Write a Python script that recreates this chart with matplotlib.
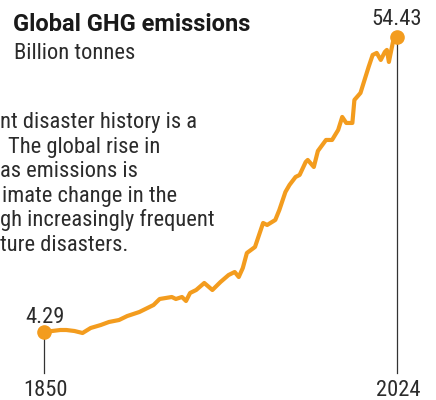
import matplotlib
matplotlib.use("Agg")
import matplotlib.pyplot as plt
from matplotlib import font_manager

# ---- data ----
years = [1850, 1858, 1861, 1865, 1869, 1873, 1878, 1882, 1887, 1891, 1897,
         1904, 1907, 1913, 1915, 1918, 1920, 1922, 1925, 1929, 1933, 1937,
         1941, 1944, 1946, 1948, 1950, 1954, 1958, 1960, 1964, 1966, 1969,
         1971, 1974, 1976, 1979, 1980, 1983, 1985, 1989, 1992, 1995, 1997,
         1999, 2002, 2003, 2006, 2008, 2010, 2012, 2014, 2016, 2018, 2019,
         2020, 2022, 2024]
values = [4.29, 4.63, 4.63, 4.46, 4.12, 4.97, 5.48, 5.99, 6.33, 7.00, 7.69,
          8.88, 9.90, 10.24, 9.90, 10.24, 9.56, 10.92, 11.43, 12.62, 11.43, 12.79,
          13.98, 14.49, 13.64, 15.17, 17.72, 18.74, 22.82, 22.48, 23.33, 25.03, 28.09,
          29.28, 30.64, 30.98, 33.19, 33.53, 32.34, 35.06, 36.93, 36.93, 38.63, 40.84,
          39.82, 39.82, 43.73, 44.92, 47.13, 49.33, 51.38, 51.72, 50.53, 51.89, 52.23,
          50.19, 53.58, 54.43]
title = "Global GHG emissions"
subtitle = "Billion tonnes"
body_lines = ["nt disaster history is a",
              "The global rise in",
              "as emissions is",
              "imate change in the",
              "gh increasingly frequent",
              "ture disasters."]

# ---- fonts ----
avail = {f.name for f in font_manager.fontManager.ttflist}
family = "Roboto"
for cand in ["Roboto Condensed", "Liberation Sans Narrow", "Roboto"]:
    if cand in avail:
        family = cand
        break
plt.rcParams["font.family"] = [family, "DejaVu Sans"]
title_family = ["Roboto", "DejaVu Sans"]

W, H = 436, 400
fig = plt.figure(figsize=(W / 100, H / 100), dpi=100)
ax = fig.add_axes([0, 0, 1, 1])
ax.set_axis_off()

# pixel anchors of the first/last points (from top-left)
x_first_px, y_first_px = 44, 332
x_last_px, y_last_px = 397, 37
ppy = (x_last_px - x_first_px) / (years[-1] - years[0])
ppv = (y_first_px - y_last_px) / (values[-1] - values[0])
ax.set_xlim(years[0] - x_first_px / ppy, years[0] + (W - x_first_px) / ppy)
ax.set_ylim(values[0] - (H - y_first_px) / ppv, values[0] + y_first_px / ppv)

orange = "#F39C1E"
ax.plot(years, values, color=orange, lw=3.0, solid_joinstyle="round",
        solid_capstyle="round", zorder=3)
ax.plot([years[0], years[-1]], [values[0], values[-1]], "o", color=orange,
        ms=9.5, zorder=4)

# vertical guide lines down to the year labels
y_bottom = values[0] - (372.5 - y_first_px) / ppv
for yr, v in [(years[0], values[0]), (years[-1], values[-1])]:
    ax.plot([yr, yr], [v, y_bottom], color="#333333", lw=0.9, zorder=2)

txt = "#2b2b2b"
def fx(px):
    return px / W
def fy(py):
    return 1 - py / H

fs = 16.2
fig.text(fx(13), fy(30.7), title, fontsize=17, fontweight="bold",
         family=title_family, color="#1a1a1a", va="baseline", ha="left")
fig.text(fx(14), fy(59), subtitle, fontsize=fs, color=txt, va="baseline", ha="left")

line_x = [0, 8, 0, 2, 0, 0]
for i, (s, lx) in enumerate(zip(body_lines, line_x)):
    fig.text(fx(lx), fy(128 + 24.6 * i), s, fontsize=fs, color=txt,
             va="baseline", ha="left")

fig.text(fx(45), fy(322.7), f"{values[0]:.2f}", fontsize=fs, color=txt,
         ha="center", va="baseline")
fig.text(fx(397), fy(25), f"{values[-1]:.2f}", fontsize=fs, color=txt,
         ha="center", va="baseline")
fig.text(fx(45.5), fy(396.5), str(years[0]), fontsize=fs, color=txt,
         ha="center", va="baseline")
fig.text(fx(398.5), fy(396.5), str(years[-1]), fontsize=fs, color=txt,
         ha="center", va="baseline")

fig.savefig("out.png", dpi=100, facecolor="white")
